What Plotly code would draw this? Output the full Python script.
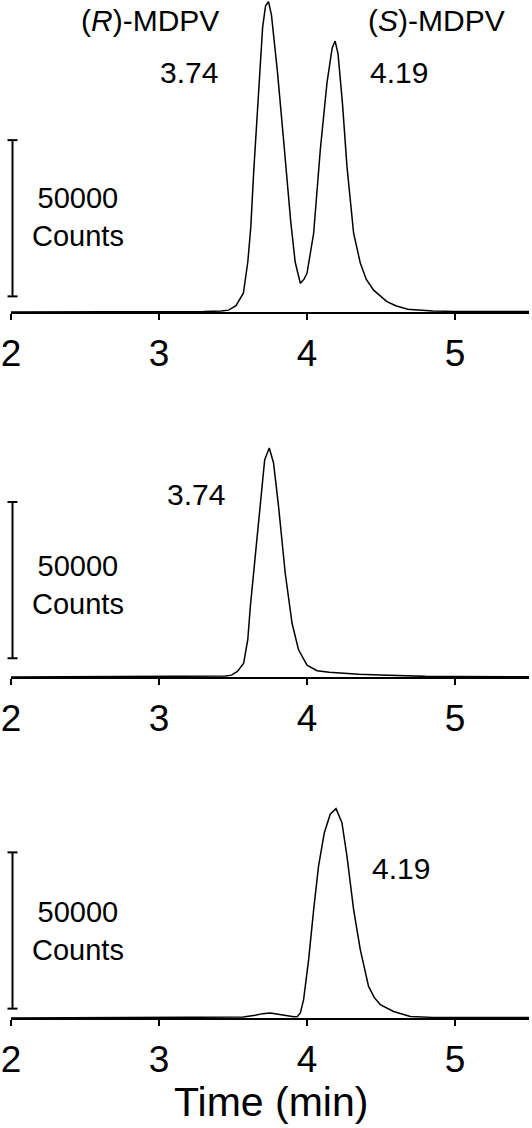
import plotly.graph_objects as go

# ---------------- data ----------------
# Panel 1: racemic MDPV (both enantiomers)
t_mix = [2.00, 2.50, 3.00, 3.30, 3.42, 3.47, 3.52, 3.57, 3.60, 3.62, 3.64, 3.67, 3.70, 3.72,
         3.74, 3.76, 3.80, 3.84, 3.89, 3.92, 3.955, 3.98, 4.00, 4.045, 4.09, 4.135, 4.17, 4.19,
         4.21, 4.24, 4.27, 4.315, 4.36, 4.40, 4.45, 4.54, 4.60, 4.68, 4.85, 5.00, 5.50]
c_mix = [0, 0, 100, 150, 300, 600, 2000, 6000, 16000, 27000, 45000, 70000, 91000, 98000,
         99300, 95000, 77000, 56000, 29000, 16000, 9200, 10500, 12400, 25200, 52000, 73300, 84500, 86700,
         82500, 66500, 46600, 25200, 15700, 10500, 7000, 3300, 2000, 900, 300, 200, 150]

# Panel 2: (R)-MDPV
t_r = [2.00, 3.00, 3.30, 3.45, 3.49, 3.53, 3.572, 3.60, 3.617, 3.65, 3.685, 3.714, 3.745, 3.774,
       3.808, 3.853, 3.899, 3.943, 4.00, 4.068, 4.15, 4.225, 4.35, 4.495, 4.65, 4.80, 5.00, 5.50]
c_r = [0, 100, 150, 300, 600, 1800, 4400, 12000, 22500, 38600, 56700, 69500, 73300, 68500,
       54500, 33200, 17200, 8700, 3800, 2000, 1500, 1200, 900, 640, 350, 200, 150, 100]

# Panel 3: (S)-MDPV
t_s = [2.00, 3.00, 3.40, 3.57, 3.65, 3.70, 3.752, 3.80, 3.86, 3.91, 3.935, 3.955, 3.977, 4.011,
       4.045, 4.078, 4.117, 4.157, 4.196, 4.236, 4.27, 4.315, 4.36, 4.416, 4.455, 4.495, 4.585,
       4.698, 4.85, 5.00, 5.50]
c_s = [0, 100, 150, 300, 900, 1400, 1600, 1300, 700, 400, 500, 1600, 5900, 18700,
       34700, 48600, 59300, 65200, 67000, 62500, 51800, 34700, 21900, 10100, 6500, 4300, 2100,
       500, 200, 150, 150]

x_ticks = [2, 3, 4, 5]
x_tick_labels = ["2", "3", "4", "5"]
x_range = [2, 5.5]

scale_counts = 50000
scale_bottoms = [5000, 6000, 3000]        # lower end of each scale bar (counts)
scale_label_y = [30500, 29600, 28000]     # centre of the scale label (counts)
scale_label = "50000<br>Counts"

# peak labels: (panel, text, x, y, anchor)
peak_labels = [
    (1, "(<i>R</i>)-MDPV", 3.42, 93400, "right"),
    (1, "3.74", 3.41, 76600, "right"),
    (1, "(<i>S</i>)-MDPV", 4.40, 93400, "left"),
    (1, "4.19", 4.41, 76600, "left"),
    (2, "3.74", 3.46, 58300, "right"),
    (3, "4.19", 4.425, 48000, "left"),
]

# ---------------- layout geometry ----------------
W, H = 532, 1128
ML, MR, MT, MB = 11, 3, 0, 110
PH = H - MT - MB                 # plot-area height in px
PW = W - ML - MR
CPP = 320.0                      # counts per pixel (same vertical scale for all panels)
axis_px = [312, 677, 1018]       # y pixel of each panel's x axis
top_px = [0, 377, 718]           # y pixel of each panel's top

FONT = "Arial, 'Liberation Sans', sans-serif"

fig = go.Figure()
traces = [(t_mix, c_mix), (t_r, c_r), (t_s, c_s)]
for i, (t, c) in enumerate(traces):
    n = "" if i == 0 else str(i + 1)
    fig.add_trace(go.Scatter(x=t, y=c, mode="lines", xaxis="x" + n, yaxis="y" + n,
                             line=dict(color="black", width=1.5), showlegend=False,
                             hoverinfo="skip"))

layout = dict(template="none", width=W, height=H,
              margin=dict(l=ML, r=MR, t=MT, b=MB, pad=0, autoexpand=False),
              paper_bgcolor="white", plot_bgcolor="white", showlegend=False,
              font=dict(family=FONT, color="black"))

shapes = []
annotations = []
for i in range(3):
    n = "" if i == 0 else str(i + 1)
    dom = [(H - MB - axis_px[i]) / PH, (H - MB - top_px[i]) / PH]
    yr = [0, (axis_px[i] - top_px[i]) * CPP]
    layout["xaxis" + n] = dict(domain=[0, 1], range=x_range, anchor="y" + n, automargin=False,
                               tickvals=x_ticks, ticktext=x_tick_labels,
                               showline=True, linecolor="black", linewidth=2,
                               ticks="outside", ticklen=6, tickwidth=2, tickcolor="black",
                               ticklabelstandoff=2,
                               showgrid=False, zeroline=False,
                               tickfont=dict(size=37, family=FONT, color="black"))
    layout["yaxis" + n] = dict(domain=dom, range=yr, anchor="x" + n, visible=False,
                               automargin=False, showgrid=False, zeroline=False)
    yref = "y" + n
    b0 = scale_bottoms[i]
    b1 = b0 + scale_counts
    bx = 1.5 / PW
    cap = 5.0 / PW
    line = dict(color="black", width=2)
    shapes.append(dict(type="line", xref="paper", yref=yref, x0=bx, x1=bx, y0=b0, y1=b1, line=line))
    shapes.append(dict(type="line", xref="paper", yref=yref, x0=bx - cap, x1=bx + cap, y0=b0, y1=b0, line=line))
    shapes.append(dict(type="line", xref="paper", yref=yref, x0=bx - cap, x1=bx + cap, y0=b1, y1=b1, line=line))
    annotations.append(dict(text=scale_label, xref="paper", yref=yref,
                            x=(78 - ML) / PW, y=scale_label_y[i],
                            xanchor="center", yanchor="middle", showarrow=False,
                            font=dict(size=29, family=FONT, color="black")))

for (p, txt, x, y, anc) in peak_labels:
    n = "" if p == 1 else str(p)
    annotations.append(dict(text=txt, xref="x" + n, yref="y" + n, x=x, y=y,
                            xanchor=anc, yanchor="middle", showarrow=False,
                            font=dict(size=30, family=FONT, color="black")))

annotations.append(dict(text="Time (min)", xref="paper", yref="paper",
                        x=(271 - ML) / PW, y=-(1102 - (H - MB)) / PH,
                        xanchor="center", yanchor="middle", showarrow=False,
                        font=dict(size=41, family=FONT, color="black")))

layout["shapes"] = shapes
layout["annotations"] = annotations
fig.update_layout(**layout)
fig.write_html("out.html", config={"displayModeBar": False, "staticPlot": True},
               post_script="document.body.style.margin='0';document.body.style.overflow='hidden';")
